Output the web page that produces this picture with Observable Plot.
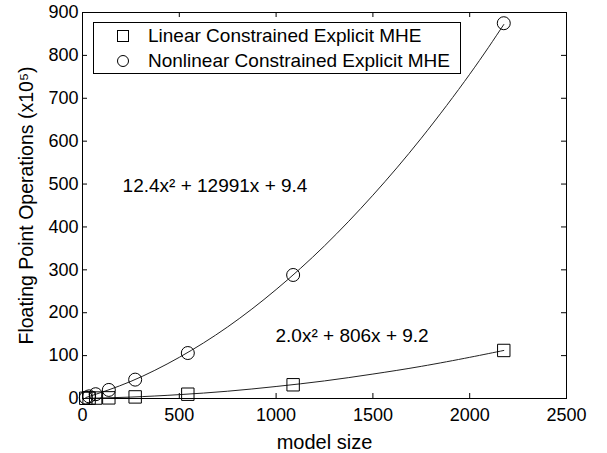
<!DOCTYPE html>
<html>
<head>
<meta charset="utf-8">
<script src="https://cdn.jsdelivr.net/npm/d3@7"></script>
<script src="https://cdn.jsdelivr.net/npm/@observablehq/plot@0.6"></script>
<style>
  html, body { margin: 0; padding: 0; background: #fff; }
  #wrap { position: relative; width: 607px; height: 453px; font-family: "Liberation Sans", Arial, sans-serif; }
  #wrap g[aria-label$="tick label"] { font-size: 18px; }
  #legend { position: absolute; left: 93px; top: 22px; width: 366px; height: 50px; border: 1px solid #000; background: #fff; font-size: 19px; color: #000; }
  #legend .row { position: absolute; left: 0; height: 22px; line-height: 22px; white-space: nowrap; }
  #legend svg { position: absolute; left: 22px; top: 4px; }
  #legend span { position: absolute; left: 54px; top: 0; }
</style>
</head>
<body>
<div id="wrap"></div>
<script>
// measured model sizes (markers)
const modelSize = [17, 34, 68, 136, 272, 544, 1088, 2176];
// Floating point operations (x10^5) at the markers
const linearFlops = [0.5, 1, 1, 1.5, 3.7, 10, 32, 112];
const nonlinearFlops = [2, 5, 10, 20, 44, 106, 288, 875];
// fitted curves
const fitX = [17, 250, 500, 750, 1000, 1250, 1500, 1750, 2000, 2176];
const linearFit = [0.3, 3.3, 9, 17, 28, 41, 57, 75, 96, 112];
const nonlinearFit = [2.2, 40, 96, 167, 254, 356, 474, 607, 756, 872];
const seriesNames = ["Linear Constrained Explicit MHE", "Nonlinear Constrained Explicit MHE"];
const xTicks = [0, 500, 1000, 1500, 2000, 2500];
const yTicks = [0, 100, 200, 300, 400, 500, 600, 700, 800, 900];
const equations = [
  {text: "12.4x² + 12991x + 9.4", x: 207, y: 495},
  {text: "2.0x² + 806x + 9.2", x: 997, y: 147}
];

const linData = modelSize.map((m, i) => ({x: m, y: linearFlops[i]}));
const nonData = modelSize.map((m, i) => ({x: m, y: nonlinearFlops[i]}));
const linFitData = fitX.map((m, i) => ({x: m, y: linearFit[i]}));
const nonFitData = fitX.map((m, i) => ({x: m, y: nonlinearFit[i]}));

const W = 607, H = 453, mL = 82, mR = 41, mT = 12, mB = 55;
const pw = W - mL - mR, ph = H - mT - mB;
const fmt = d => String(d);

const chart = Plot.plot({
  width: W, height: H,
  marginLeft: mL, marginRight: mR, marginTop: mT, marginBottom: mB,
  style: {fontFamily: "'Liberation Sans', Arial, sans-serif", background: "#fff", color: "#000"},
  x: {domain: [0, 2500], label: "model size"},
  y: {domain: [0, 900], label: "Floating Point Operations (x10⁵)"},
  marks: [
    Plot.frame({stroke: "#000", strokeWidth: 1}),
    Plot.tickY(yTicks, {y: d => d, insetRight: pw - 5, stroke: "#000"}),
    Plot.tickY(yTicks, {y: d => d, insetLeft: pw - 5, stroke: "#000"}),
    Plot.tickX(xTicks, {x: d => d, insetTop: ph - 5, stroke: "#000"}),
    Plot.tickX(xTicks, {x: d => d, insetBottom: ph - 5, stroke: "#000"}),
    Plot.axisX(xTicks, {tickSize: 0, tickPadding: 10, tickFormat: fmt, fontSize: 18, label: null}),
    Plot.axisY(yTicks, {tickSize: 0, tickPadding: 4, tickFormat: fmt, fontSize: 18, label: null}),
    Plot.axisX([], {tickSize: 0, fontSize: 20, label: "model size", labelAnchor: "center", labelOffset: 50, labelArrow: "none"}),
    Plot.axisY([], {tickSize: 0, fontSize: 19.5, label: "Floating Point Operations (x10⁵)", labelAnchor: "center", labelOffset: 63, labelArrow: "none"}),
    Plot.line(linFitData, {x: "x", y: "y", curve: "natural", stroke: "#222", strokeWidth: 1}),
    Plot.line(nonFitData, {x: "x", y: "y", curve: "natural", stroke: "#222", strokeWidth: 1}),
    Plot.dot(linData, {x: "x", y: "y", symbol: "square", r: 7, stroke: "#000", fill: "none", strokeWidth: 1}),
    Plot.dot(nonData, {x: "x", y: "y", symbol: "circle", r: 6.5, stroke: "#000", fill: "none", strokeWidth: 1}),
    Plot.text(equations, {x: "x", y: "y", text: "text", textAnchor: "start", fontSize: 19, fill: "#000"})
  ]
});

const wrap = document.getElementById("wrap");
wrap.appendChild(chart);

const legend = document.createElement("div");
legend.id = "legend";
const sym = [
  '<svg width="14" height="14"><rect x="1.5" y="1.5" width="11" height="11" fill="none" stroke="#000"/></svg>',
  '<svg width="14" height="14"><circle cx="7" cy="7" r="5.5" fill="none" stroke="#000"/></svg>'
];
seriesNames.forEach((name, i) => {
  const row = document.createElement("div");
  row.className = "row";
  row.style.top = (2 + i * 25) + "px";
  row.innerHTML = sym[i] + "<span>" + name + "</span>";
  legend.appendChild(row);
});
wrap.appendChild(legend);
</script>
</body>
</html>
